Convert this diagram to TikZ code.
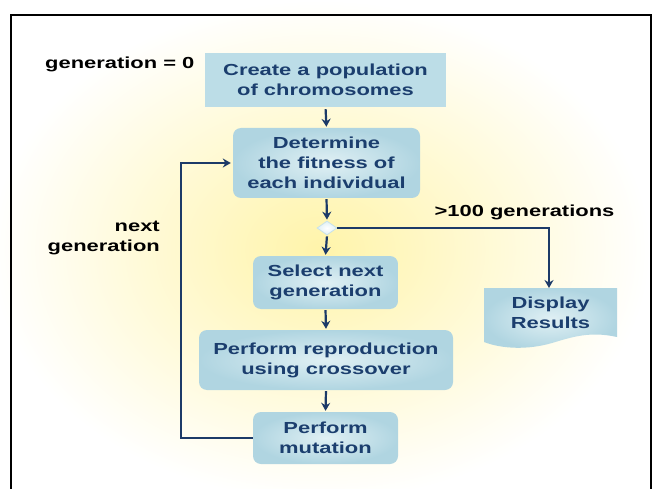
\documentclass[tikz,border=0pt]{standalone}
\usepackage{fontspec}
\setmainfont{Liberation Sans}[FakeStretch=1.37]
\usetikzlibrary{shapes.geometric,arrows.meta}
\definecolor{navy}{RGB}{28,58,104}
\definecolor{txtblue}{RGB}{27,62,110}
\definecolor{boxout}{RGB}{176,213,225}
\definecolor{boxin}{RGB}{224,240,244}
\definecolor{boxflat}{RGB}{188,221,231}
\definecolor{glow}{RGB}{255,244,170}
\tikzset{
  boxtext/.style={font=\fontsize{16}{20}\selectfont\bfseries, text=txtblue, align=center, inner sep=0pt},
  roundbox/.style={boxtext, rounded corners=8pt, inner color=boxin, outer color=boxout},
  flatbox/.style={boxtext, fill=boxflat},
  lbl/.style={font=\fontsize{16}{20}\selectfont\bfseries, text=black, inner sep=0pt},
  conn/.style={draw=navy, line width=2.2pt},
  arr/.style={conn, -{Stealth[length=8pt,width=9pt]}},
}
\begin{document}
\begin{tikzpicture}[x=1pt,y=-1pt]
\useasboundingbox (0,0) rectangle (661,489);
\fill[white] (0,0) rectangle (661,489);
\shade[inner color=glow, outer color=white] (320,250) ellipse [x radius=330, y radius=250];
\draw[black, line width=2.6pt] (11,500) -- (11,15) -- (651,15) -- (651,500);

\node[flatbox, minimum width=241pt, minimum height=54pt] (cr) at (325.5,80) {Create a population\\of chromosomes};
\node[roundbox, minimum width=187pt, minimum height=70pt] (det) at (326.5,163) {Determine\\the fitness of\\each individual};
\node[draw=boxout!70!white, inner color=white, outer color=boxin, line width=0.8pt, diamond, minimum width=20pt, minimum height=14pt, inner sep=0pt] (dia) at (327,228) {};
\node[roundbox, minimum width=145pt, minimum height=53pt] (sel) at (325.5,282.5) {Select next\\generation};
\node[roundbox, minimum width=254pt, minimum height=60pt] (rep) at (326,360) {Perform reproduction\\using crossover};
\node[roundbox, minimum width=145pt, minimum height=52pt] (mut) at (325.5,438) {Perform\\mutation};

\shade[inner color=boxin, outer color=boxout] (484,288) -- (617,288) -- (617,337)
  .. controls (590,331) and (572,337) .. (552,343)
  .. controls (528,350) and (502,349) .. (484,342) -- cycle;
\node[boxtext, minimum width=133pt, minimum height=50pt] (disp) at (550.5,313) {Display\\Results};
\coordinate (dispTop) at (549,288);

\node[lbl, anchor=west] (g0) at (45,64) {generation = 0};
\node[lbl] (g100) at (524.5,212) {>100 generations};
\node[lbl, anchor=east, align=right] (ng) at (160,238) {next\\generation};

\draw[arr, shorten <=2pt, shorten >=1pt] (cr.south) -- (det.north);
\draw[arr, shorten <=1pt, shorten >=1pt] (det.south) -- (dia.north);
\draw[arr, shorten <=1pt, shorten >=1pt] (dia.south) -- (sel.north);
\draw[arr, shorten <=1pt, shorten >=1pt] (sel.south) -- (rep.north);
\draw[arr, shorten <=1pt, shorten >=1pt] (rep.south) -- (mut.north);
\coordinate (lp) at (181,438);
\draw[arr, shorten >=2pt] (mut.west) -- (lp) |- (det.west);
\draw[arr] (dia.east) -| (dispTop);
\end{tikzpicture}
\end{document}
